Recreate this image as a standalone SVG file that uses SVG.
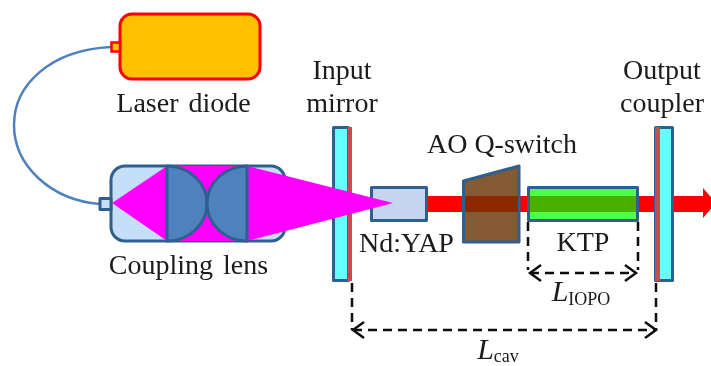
<svg xmlns="http://www.w3.org/2000/svg" width="711" height="366" viewBox="0 0 711 366">
<defs>
<style>
.t{font-family:"Liberation Serif","Times New Roman",serif;font-size:28px;fill:#1a1a1a;text-anchor:middle}
.b{stroke:#2f5f8f;stroke-width:3;stroke-linejoin:round}
.d{fill:none;stroke:#111;stroke-width:2.5;stroke-dasharray:9 6}
.h{fill:none;stroke:#111;stroke-width:2.5}
.s{font-size:18px}
</style>
<filter id="soft" filterUnits="userSpaceOnUse" x="0" y="0" width="711" height="366"><feGaussianBlur stdDeviation="0.45"/></filter>
</defs>
<rect width="711" height="366" fill="#fff"/>
<g filter="url(#soft)">
<g id="connectors">
<path d="M111,47 C50,50 14,85 14,125 C14,165 50,200 100,204" fill="none" stroke="#4f81bd" stroke-width="2.5"/>
<path d="M352,283V330M656,283V330M353,330H655" class="d"/>
<path d="M364,322L353,330L364,338M645,322L656,330L645,338" class="h"/>
<path d="M528,222V270M638,222V270M530,273H636" class="d"/>
<path d="M541,265L530,273L541,281M625,265L636,273L625,281" class="h"/>
</g>
<g id="beam"><path d="M420,196H703V188L716,203L703,218V212H420Z" fill="#ff0000"/></g>
<g id="laser-diode">
<rect x="120" y="14" width="140" height="65" rx="12" fill="#ffc000" stroke="#ff0000" stroke-width="3"/>
<rect x="111.500" y="42.500" width="8.500" height="9" fill="#ffc000" stroke="#ff0000" stroke-width="2.500"/>
<text x="183.500" y="112" class="t" word-spacing="3">Laser diode</text>
</g>
<g id="input-mirror">
<rect x="333.500" y="127.500" width="15" height="153" fill="#66ffff" class="b"/>
<rect x="347.500" y="127" width="4.500" height="154" fill="#c0504d"/>
<text x="342" y="79" class="t">Input</text>
<text x="342" y="112" class="t">mirror</text>
</g>
<g id="nd-yap">
<rect x="371.500" y="187.500" width="55" height="33" fill="#c5d5ee" class="b"/>
<text x="406.500" y="252" class="t">Nd:YAP</text>
</g>
<g id="coupling-lens">
<rect x="111" y="166" width="174" height="75" rx="14" fill="#c6dff8" stroke="#2f5f8f" stroke-width="3"/>
<rect x="100" y="198.500" width="11" height="11" fill="#c6dff8" class="b"/>
<path d="M112,203L167,166H247L393,203L247,241H167Z" fill="#ff00ff"/>
<path d="M167,166A40,37.500 0 0 1 167,241Z" fill="#4f81bd" class="b"/>
<path d="M247,166A40,37.500 0 0 0 247,241Z" fill="#4f81bd" class="b"/>
<text x="188.500" y="274" class="t" word-spacing="3">Coupling lens</text>
</g>
<g id="q-switch">
<path d="M463.500,181L519,166V242H463.500Z" fill="#835a30" class="b"/>
<rect x="465" y="196" width="53" height="16" fill="#8b2c00"/>
<text x="502" y="153" class="t">AO Q-switch</text>
</g>
<g id="ktp">
<rect x="528.500" y="187.500" width="109" height="33" fill="#4dff4d" class="b"/>
<rect x="530" y="196" width="106" height="16" fill="#4caf00"/>
<text x="583" y="251" class="t">KTP</text>
</g>
<g id="output-coupler">
<rect x="655.500" y="127.500" width="17" height="153" fill="#66ffff" class="b"/>
<rect x="655" y="127" width="5" height="154" fill="#c0504d"/>
<text x="662" y="79" class="t">Output</text>
<text x="662" y="112" class="t">coupler</text>
</g>
<g id="labels">
<text x="581" y="301" class="t"><tspan font-style="italic" font-size="30">L</tspan><tspan class="s" dy="4">IOPO</tspan></text>
<text x="498" y="359" class="t"><tspan font-style="italic" font-size="30">L</tspan><tspan class="s" dy="3">cav</tspan></text>
</g>
</g>
</svg>
